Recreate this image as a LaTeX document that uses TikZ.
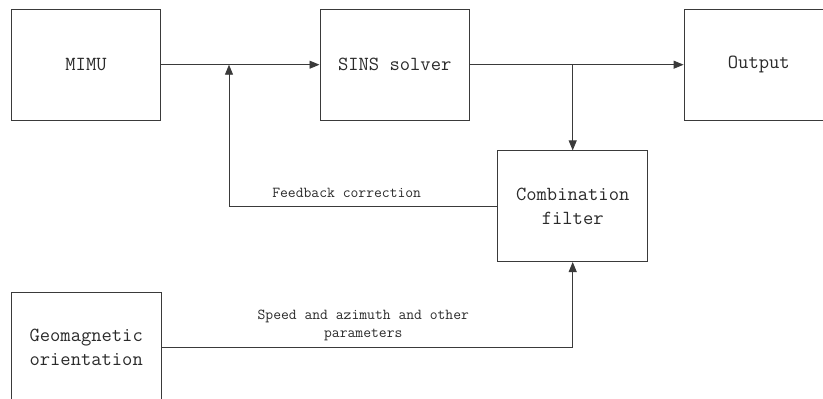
\documentclass[tikz,border=0pt]{standalone}
\usetikzlibrary{arrows.meta}
\definecolor{ln}{HTML}{3A3A3A}
\definecolor{tx}{HTML}{2A2A2A}
\tikzset{
  blk/.style={draw=ln, line width=0.9pt, minimum width=149.5pt, minimum height=110.7pt, inner sep=0pt, align=center, font=\fontsize{20}{24}\selectfont\ttfamily, text=tx},
  arr/.style={draw=ln, line width=0.9pt, -{Triangle[length=10pt,width=8pt]}},
  lnk/.style={draw=ln, line width=0.9pt},
  lbl/.style={inner sep=0pt, align=center, font=\fontsize{15.2}{18.5}\selectfont\ttfamily, text=tx}
}
\begin{document}
\begin{tikzpicture}[x=1pt,y=-1pt]
\useasboundingbox (0,0) rectangle (823,399);
\clip (0,0) rectangle (823,399);
\node[blk] (mimu) at (86,64.7) {MIMU};
\node[blk] (sins) at (394.7,64.7) {SINS solver};
\node[blk] (out) at (758.8,64.7) {Output};
\node[blk, minimum width=150pt] (comb) at (572.7,206.2) {Combination\\filter};
\node[blk] (geo) at (86.2,347.7) {Geomagnetic\\orientation};
\coordinate (fb) at (229,64.7);
\coordinate (br) at (572.7,64.7);
\draw[arr] (mimu.east) -- (sins.west);
\draw[arr] (sins.east) -- (out.west);
\draw[arr] (br) -- (comb.north);
\draw[arr] (comb.west) -| (fb);
\draw[arr] (geo.east) -| (comb.south);
\node[lbl] (fbl) at (346.7,193.3) {Feedback correction};
\node[lbl] (spl) at (363.3,325.5) {Speed and azimuth and other\\parameters};
\end{tikzpicture}
\end{document}
